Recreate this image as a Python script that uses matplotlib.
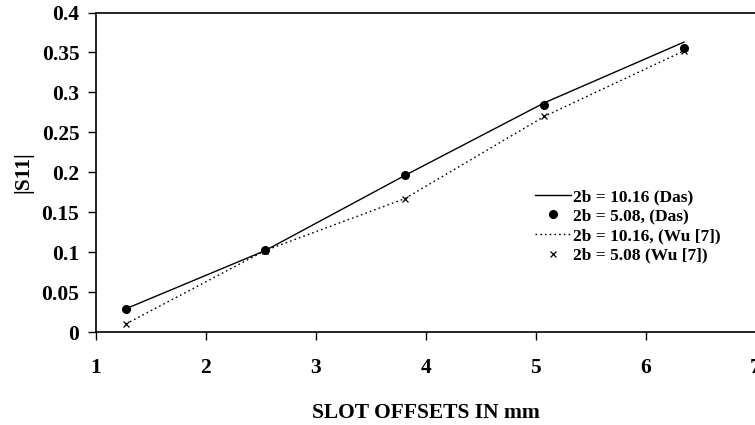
import matplotlib
matplotlib.use('Agg')
import matplotlib.pyplot as plt

plt.rcParams['font.family'] = ['Liberation Serif', 'DejaVu Serif']
plt.rcParams['font.weight'] = 'bold'

# 槽偏移 (mm)
offsets = [1.27, 2.54, 3.81, 5.08, 6.35]
# |S11| 数据
das_1016 = [0.029, 0.102, 0.196, 0.287, 0.363]
das_508 = [0.029, 0.103, 0.196, 0.284, 0.356]
wu_1016 = [0.010, 0.102, 0.167, 0.270, 0.352]
wu_508 = [0.010, 0.102, 0.167, 0.270, 0.352]

x_ticks = [1, 2, 3, 4, 5, 6, 7]
y_ticks = [0, 0.05, 0.1, 0.15, 0.2, 0.25, 0.3, 0.35, 0.4]
y_labels = ['0', '0.05', '0.1', '0.15', '0.2', '0.25', '0.3', '0.35', '0.4']

fig = plt.figure(figsize=(7.55, 4.25), dpi=100)
ax = fig.add_axes([96 / 755, 1 - 332 / 425, (755.5 - 96) / 755, (332 - 12.5) / 425])

ax.plot(offsets, das_1016, color='black', lw=1.0, label='2b = 10.16 (Das)')
ax.plot(offsets, das_508, 'o', color='black', ms=5.5, label='2b = 5.08, (Das)')
ax.plot(offsets, wu_1016, color='black', lw=1.0, ls=(0, (1.2, 2.2)), label='2b = 10.16, (Wu [7])')
ax.plot(offsets, wu_508, 'x', color='black', ms=5, mew=0.9, label='2b = 5.08 (Wu [7])')

ax.set_xlim(1, 7)
ax.set_ylim(0, 0.4)
ax.set_xticks(x_ticks)
ax.set_yticks(y_ticks)
ax.set_yticklabels(y_labels)
ax.tick_params(axis='x', direction='out', length=6, width=1, pad=13, labelsize=15.5)
ax.tick_params(axis='y', direction='out', length=6, width=1, pad=6, labelsize=15.5)
for s in ['left', 'bottom', 'top']:
    ax.spines[s].set_linewidth(1.2)
ax.spines['right'].set_visible(False)

ax.set_xlabel('SLOT OFFSETS IN mm', fontsize=15.5, fontweight='bold', labelpad=18)
ax.set_ylabel('|S11|', fontsize=15.5, fontweight='bold', labelpad=6)

leg = ax.legend(loc='upper left', bbox_to_anchor=(0.655, 0.47), frameon=False,
                fontsize=12.5, handlelength=2.1, handletextpad=0.1,
                labelspacing=0.2, borderaxespad=0)

fig.savefig('out.png', dpi=100)
